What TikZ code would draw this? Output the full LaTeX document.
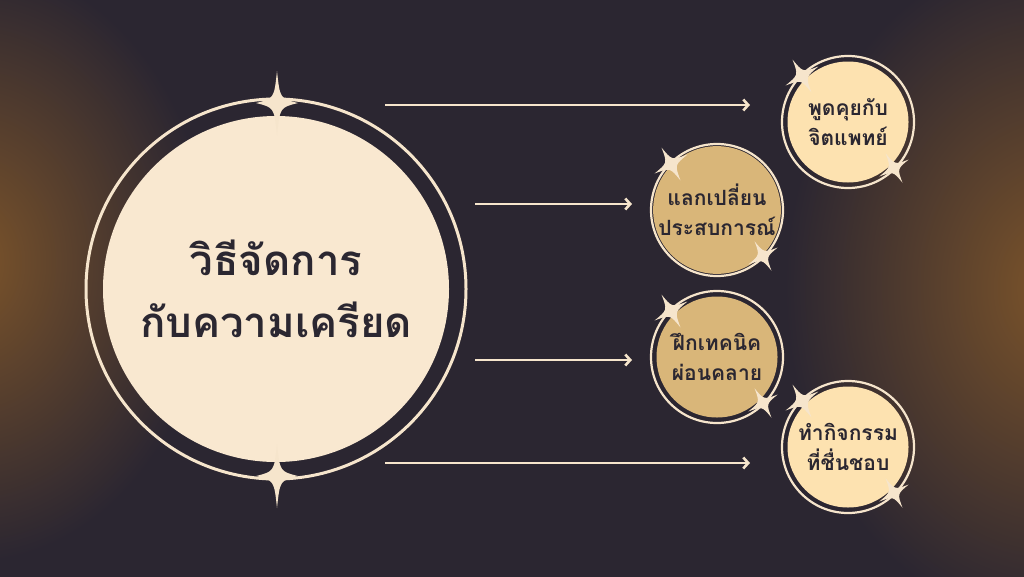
\documentclass[tikz,border=0pt]{standalone}
\usepackage{fontspec}
\newfontfamily\thaifont[Script=Thai]{Loma}
\usetikzlibrary{arrows.meta,shapes.geometric,calc}
\definecolor{bg}{HTML}{2B2631}
\definecolor{glowc}{HTML}{7C542A}
\definecolor{cream}{HTML}{F9E8D0}
\definecolor{peach}{HTML}{FDE2B0}
\definecolor{tan}{HTML}{D9B679}
\definecolor{ringc}{HTML}{F6E5CC}
\definecolor{inkc}{HTML}{2B2731}
\tikzset{
  ring/.style={draw=ringc,line width=2.2pt},
  bigc/.style={circle,fill=cream,minimum size=346pt,inner sep=0pt,align=center,text=inkc,
    font=\thaifont\bfseries\fontsize{42}{62}\selectfont},
  smallc/.style={circle,minimum size=121pt,inner sep=0pt,align=center,text=inkc,
    font=\thaifont\bfseries\fontsize{21}{30}\selectfont},
  arr/.style={draw=ringc,line width=2.6pt,-{Straight Barb[length=5pt,width=11pt,line width=2.6pt]}},
  sparkle/.pic={\fill[ringc] (0,-1) .. controls (0.14,-0.14) .. (1,0) .. controls (0.14,0.14) .. (0,1)
      .. controls (-0.14,0.14) .. (-1,0) .. controls (-0.14,-0.14) .. cycle;}
}
\begin{document}
\begin{tikzpicture}[x=1pt,y=-1pt]
\useasboundingbox (0,0) rectangle (1024,576);
\fill[bg] (-6,-6) rectangle (1030,582);
\begin{scope}
\clip (-6,-6) rectangle (1030,582);
\shade[inner color=glowc,outer color=bg] (-30,262) ellipse [x radius=240,y radius=300];
\shade[inner color=glowc,outer color=bg] (1055,288) ellipse [x radius=270,y radius=340];
\end{scope}
% main circle
\node[bigc] (main) at (276,289) {วิธีจัดการ\\กับความเครียด};
\draw[ring,line width=3pt] (main.center) circle (190);
\pic[xscale=21,yscale=32] at (277,103) {sparkle};
\pic[xscale=21,yscale=32] at (277,476) {sparkle};
% small circles
\node[smallc,fill=peach] (c1) at (848,122) {พูดคุยกับ\\จิตแพทย์};
\node[smallc,fill=tan] (c2) at (717,210) {แลกเปลี่ยน\\ประสบการณ์};
\node[smallc,fill=tan] (c3) at (717,357) {ฝึกเทคนิค\\ผ่อนคลาย};
\node[smallc,fill=peach] (c4) at (848,447) {ทำกิจกรรม\\ที่ชื่นชอบ};
\foreach \c in {c1,c2,c3,c4}{
  \draw[ring] (\c.center) circle (66);
  \pic[scale=19,rotate=30] at ($(\c.center)+(-46,-46)$) {sparkle};
  \pic[scale=17,rotate=30] at ($(\c.center)+(46,46)$) {sparkle};
}
% arrows
\coordinate (a1s) at (385,105); \coordinate (a1e) at (750,105);
\coordinate (a2s) at (475,204); \coordinate (a2e) at (632,204);
\coordinate (a3s) at (475,360); \coordinate (a3e) at (632,360);
\coordinate (a4s) at (385,463); \coordinate (a4e) at (750,463);
\draw[arr] (a1s) -- (a1e);
\draw[arr] (a2s) -- (a2e);
\draw[arr] (a3s) -- (a3e);
\draw[arr] (a4s) -- (a4e);
\end{tikzpicture}
\end{document}
